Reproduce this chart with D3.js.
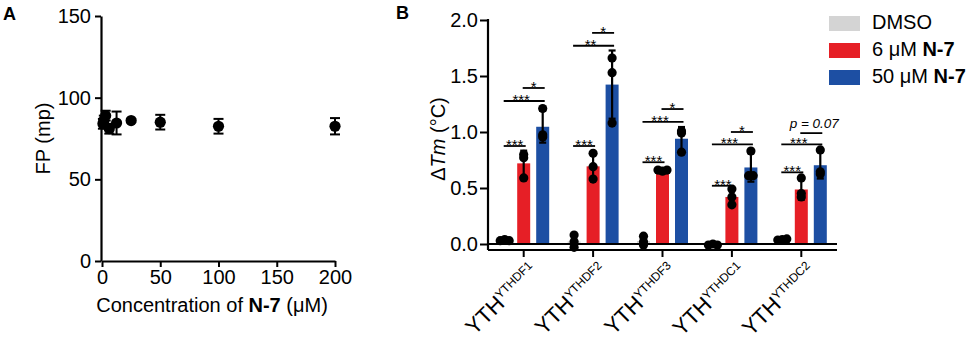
<!DOCTYPE html>
<html>
<head>
<meta charset="utf-8">
<script src="https://cdn.jsdelivr.net/npm/d3@7"></script>
<style>
  body { margin: 0; background: #fff; }
  svg { font-family: "Liberation Sans", Arial, sans-serif; display: block; }
</style>
</head>
<body>
<div id="chart"></div>
<script>
// ---- panel A data: FP vs concentration
const concentrations = [0.78, 1.56, 3.13, 6.25, 12.5, 25, 50, 100, 200];
const fpValues = [84, 86, 89, 81, 84.5, 86, 85, 82.5, 82.5];
const fpErrors = [3, 3, 3, 3, 7, 1, 4.5, 4.5, 5];
const fpTicks = [0, 50, 100, 150];
const concTicks = [0, 50, 100, 150, 200];

// ---- panel B data: delta Tm, three replicates each
const groups = ['YTHDF1', 'YTHDF2', 'YTHDF3', 'YTHDC1', 'YTHDC2'];
const seriesNames = ['DMSO', '6 μM', '50 μM'];
const dmsoReps = [[0.03, 0.04, 0.03], [0.02, 0.08, -0.03], [-0.01, 0.07, 0.02], [-0.01, 0.0, -0.01], [0.035, 0.04, 0.045]];
const lowReps = [[0.80, 0.77, 0.59], [0.81, 0.69, 0.58], [0.66, 0.65, 0.66], [0.49, 0.42, 0.35], [0.59, 0.45, 0.42]];
const highReps = [[1.21, 0.975, 0.955], [1.66, 1.53, 1.08], [1.01, 0.99, 0.82], [0.83, 0.61, 0.61], [0.84, 0.645, 0.625]];
const tmTicks = [0, 0.5, 1.0, 1.5, 2.0];

// significance marks: series pairs, labels and the height (in °C) of each line
const sigPairs = [[0, 1], [0, 2], [1, 2]];
const sigLabels = [
  ['***', '***', '*'],
  ['***', '**', '*'],
  ['***', '***', '*'],
  ['***', '***', '*'],
  ['***', '***', 'p = 0.07'],
];
const sigHeights = [
  [0.875, 1.277, 1.393],
  [0.875, 1.77, 1.885],
  [0.73, 1.09, 1.205],
  [0.52, 0.89, 1.0],
  [0.64, 0.89, 0.99],
];

const colors = ['#d4d4d4', '#e61f26', '#1d4fa3'];

const width = 980, height = 341;
const svg = d3.select('#chart').append('svg')
  .attr('width', width).attr('height', height)
  .attr('viewBox', `0 0 ${width} ${height}`);
svg.append('rect').attr('width', width).attr('height', height).attr('fill', '#fff');

// ================= Panel A =================
const xA = d3.scaleLinear().domain([0, 200]).range([102, 335]);
const yA = d3.scaleLinear().domain([0, 150]).range([261, 16]);

const gA = svg.append('g');

gA.append('g')
  .attr('transform', `translate(${xA(0) - 1},0)`)
  .call(d3.axisLeft(yA).tickValues(fpTicks).tickSize(6).tickPadding(4).tickSizeOuter(0))
  .call(g => g.select('.domain').attr('stroke-width', 2.2))
  .call(g => g.selectAll('.tick line').attr('stroke-width', 2))
  .call(g => g.selectAll('.tick text').attr('font-size', 20).attr('fill', '#000'));

gA.append('g')
  .attr('transform', `translate(0,${yA(0)})`)
  .call(d3.axisBottom(xA).tickValues(concTicks).tickSize(6).tickPadding(3).tickSizeOuter(0))
  .call(g => g.select('.domain').attr('stroke-width', 2.2))
  .call(g => g.selectAll('.tick line').attr('stroke-width', 2))
  .call(g => g.selectAll('.tick text').attr('font-size', 20).attr('fill', '#000'));

const fpData = concentrations.map((c, i) => ({ c, v: fpValues[i], e: fpErrors[i] }));

const errA = gA.append('g').attr('stroke', '#000').attr('stroke-width', 2);
fpData.forEach(d => {
  const x = xA(d.c);
  errA.append('line').attr('x1', x).attr('x2', x).attr('y1', yA(d.v + d.e)).attr('y2', yA(d.v - d.e));
  errA.append('line').attr('x1', x - 5).attr('x2', x + 5).attr('y1', yA(d.v + d.e)).attr('y2', yA(d.v + d.e));
  errA.append('line').attr('x1', x - 5).attr('x2', x + 5).attr('y1', yA(d.v - d.e)).attr('y2', yA(d.v - d.e));
});

gA.append('g').selectAll('circle')
  .data(fpData)
  .join('circle')
  .attr('cx', d => xA(d.c))
  .attr('cy', d => yA(d.v))
  .attr('r', 5.6)
  .attr('fill', '#000');

gA.append('text')
  .attr('transform', `translate(50,${(yA(0) + yA(150)) / 2}) rotate(-90)`)
  .attr('text-anchor', 'middle')
  .attr('font-size', 20)
  .text('FP (mp)');

const xTitleA = gA.append('text')
  .attr('x', 212).attr('y', 312)
  .attr('text-anchor', 'middle')
  .attr('font-size', 20);
xTitleA.append('tspan').text('Concentration of ');
xTitleA.append('tspan').attr('font-weight', 'bold').text('N-7');
xTitleA.append('tspan').text(' (μM)');

svg.append('text').attr('x', 3).attr('y', 20).attr('font-size', 18).attr('font-weight', 'bold').text('A');

// ================= Panel B =================
const xB = d3.scaleBand().domain(groups).range([489, 836]);
const sB = d3.scalePoint().domain(seriesNames).range([-19, 19]);
const yB = d3.scaleLinear().domain([0, 2]).range([244, 20]);
const barW = 13;

const gB = svg.append('g');

gB.append('g')
  .attr('transform', 'translate(488,0)')
  .call(d3.axisLeft(yB).tickValues(tmTicks).tickFormat(d3.format('.1f')).tickSize(8).tickPadding(2).tickSizeOuter(0))
  .call(g => g.select('.domain').remove())
  .call(g => g.selectAll('.tick line').attr('stroke-width', 2))
  .call(g => g.selectAll('.tick text').attr('font-size', 20).attr('fill', '#000'));
gB.append('line').attr('x1', 488).attr('x2', 488).attr('y1', yB(2) - 1).attr('y2', 250)
  .attr('stroke', '#000').attr('stroke-width', 2.2);

const repsBySeries = [dmsoReps, lowReps, highReps];
const barData = [];
groups.forEach((g, gi) => {
  seriesNames.forEach((s, si) => {
    const reps = repsBySeries[si][gi];
    barData.push({ g, s, si, reps, mean: d3.mean(reps), sd: d3.deviation(reps) });
  });
});
const cx = d => xB(d.g) + xB.bandwidth() / 2 + sB(d.s);

gB.append('g').selectAll('rect')
  .data(barData)
  .join('rect')
  .attr('x', d => cx(d) - barW / 2)
  .attr('width', barW)
  .attr('y', d => Math.min(yB(d.mean), yB(0)))
  .attr('height', d => Math.abs(yB(0) - yB(d.mean)))
  .attr('fill', d => colors[d.si]);

// zero line and x axis
gB.append('line').attr('x1', 488).attr('x2', 837).attr('y1', yB(0)).attr('y2', yB(0))
  .attr('stroke', '#000').attr('stroke-width', 2.2);
gB.append('g')
  .attr('transform', 'translate(0,250)')
  .call(d3.axisBottom(xB).tickSize(7).tickFormat('').tickSizeOuter(0))
  .call(g => g.select('.domain').attr('d', 'M488,0H837').attr('stroke-width', 2.2))
  .call(g => g.selectAll('.tick line').attr('stroke-width', 2));

// error bars
const errB = gB.append('g').attr('stroke', '#000').attr('stroke-width', 2.2);
barData.filter(d => d.si > 0).forEach(d => {
  const x = cx(d);
  const top = yB(d.mean + d.sd), bot = yB(d.mean - d.sd);
  errB.append('line').attr('x1', x).attr('x2', x).attr('y1', top).attr('y2', bot);
  errB.append('line').attr('x1', x - 3.5).attr('x2', x + 3.5).attr('y1', top).attr('y2', top);
  errB.append('line').attr('x1', x - 3.5).attr('x2', x + 3.5).attr('y1', bot).attr('y2', bot);
});

// replicate dots, spread sideways when values almost coincide
const dots = [];
barData.forEach(d => {
  d.reps.forEach((v, i) => {
    const near = d.reps.map((w, j) => j).filter(j => Math.abs(d.reps[j] - v) < 0.015);
    const rank = near.indexOf(i);
    const off = near.length > 1 ? (rank - (near.length - 1) / 2) * 4.5 : 0;
    dots.push({ x: cx(d) + off, v });
  });
});
gB.append('g').selectAll('circle')
  .data(dots)
  .join('circle')
  .attr('cx', d => d.x)
  .attr('cy', d => yB(d.v))
  .attr('r', 4.6)
  .attr('fill', '#000');

// significance lines
const sigG = gB.append('g');
groups.forEach((g, gi) => {
  sigPairs.forEach(([a, b], k) => {
    const x1 = xB(g) + xB.bandwidth() / 2 + sB(seriesNames[a]) - 1;
    const x2 = xB(g) + xB.bandwidth() / 2 + sB(seriesNames[b]) + 2;
    const y = yB(sigHeights[gi][k]);
    sigG.append('line').attr('x1', x1).attr('x2', x2).attr('y1', y).attr('y2', y)
      .attr('stroke', '#000').attr('stroke-width', 1.8);
    const lab = sigLabels[gi][k];
    if (lab.startsWith('p')) {
      sigG.append('text').attr('x', (x1 + x2) / 2 + 3).attr('y', y - 5)
        .attr('text-anchor', 'middle').attr('font-size', 13.5).attr('font-style', 'italic')
        .text(lab);
    } else {
      // wide brackets keep their stars a bit left of centre, clear of the one above
      const shift = (b - a === 2) ? -3 : 0;
      sigG.append('text').attr('x', (x1 + x2) / 2 + shift).attr('y', y + 4)
        .attr('text-anchor', 'middle').attr('font-size', 15)
        .text(lab);
    }
  });
});

// x labels
groups.forEach(g => {
  const t = gB.append('text')
    .attr('transform', `translate(${xB(g) + xB.bandwidth() / 2 + 15},${272}) rotate(-45)`)
    .attr('text-anchor', 'end');
  t.append('tspan').attr('font-size', 22).text('YTH');
  t.append('tspan').attr('font-size', 12).attr('dy', -8).text(g);
});

// y label
const yLab = gB.append('text')
  .attr('transform', `translate(445,${139}) rotate(-90)`)
  .attr('text-anchor', 'middle')
  .attr('font-size', 20);
yLab.append('tspan').text('Δ');
yLab.append('tspan').attr('font-style', 'italic').text('Tm');
yLab.append('tspan').text(' (°C)');

svg.append('text').attr('x', 396).attr('y', 19).attr('font-size', 18).attr('font-weight', 'bold').text('B');

// legend
const legendLabels = [['DMSO', ''], ['6 μM ', 'N-7'], ['50 μM ', 'N-7']];
const leg = svg.append('g');
legendLabels.forEach((l, i) => {
  const y0 = 16 + i * 27;
  leg.append('rect').attr('x', 829).attr('y', y0).attr('width', 31).attr('height', 15).attr('fill', colors[i]);
  const t = leg.append('text').attr('x', 872).attr('y', y0 + 13).attr('font-size', 20);
  t.append('tspan').text(l[0]);
  if (l[1]) t.append('tspan').attr('font-weight', 'bold').text(l[1]);
});
</script>
</body>
</html>
